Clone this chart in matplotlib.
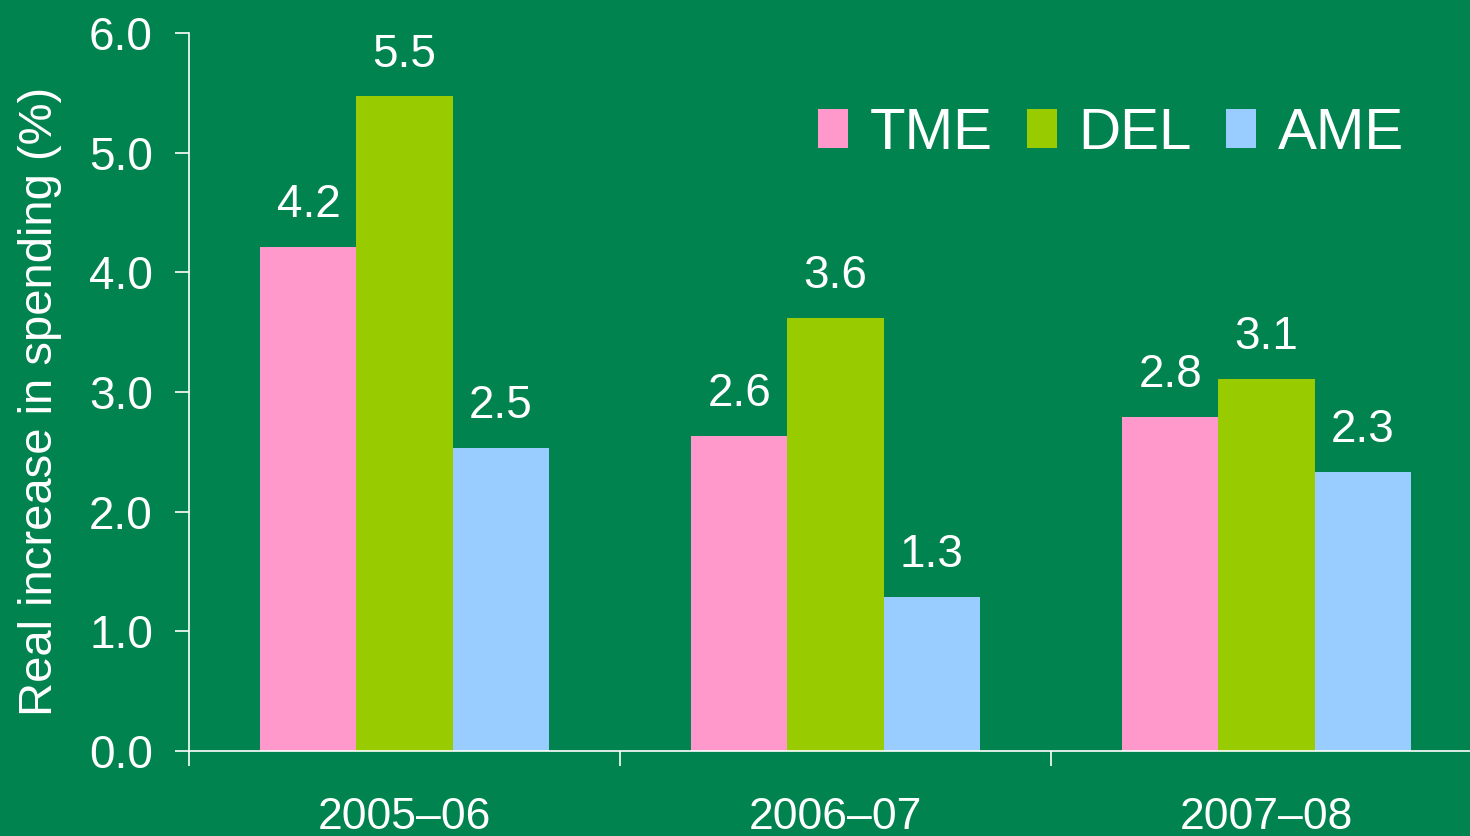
import matplotlib.pyplot as plt
import numpy as np
from matplotlib.patches import Patch

years = ["2005\u201306", "2006\u201307", "2007\u201308"]
series = ["TME", "DEL", "AME"]
tme = [4.21, 2.63, 2.79]
dele = [5.47, 3.62, 3.11]
ame = [2.53, 1.29, 2.33]
colors = ["#FF99CC", "#99CC00", "#99CCFF"]
bg = "#00834F"

plt.rcParams["font.family"] = ["Liberation Sans", "DejaVu Sans"]

fig = plt.figure(figsize=(14.7, 8.36), dpi=100, facecolor=bg)
ax = fig.add_axes([189 / 1470, 1 - 751 / 836, 1281 / 1470, 718 / 836])
ax.set_facecolor(bg)

x = np.arange(len(years))
w = 0.223
for k, (vals, c) in enumerate(zip([tme, dele, ame], colors)):
    pos = x + (k - 1) * w
    ax.bar(pos, vals, width=w, color=c, zorder=2)
    for xi, v in zip(pos, vals):
        ax.annotate(f"{v:.1f}", (xi, v), xytext=(0, 21.5), textcoords="offset points",
                    ha="center", va="baseline", fontsize=33, color="white")

ax.set_xlim(-0.5, -0.5 + 1281 / 431)
ax.set_ylim(0, 6)
ax.set_yticks(np.arange(0, 6.01, 1.0))
ax.set_yticklabels([f"{v:.1f}" for v in np.arange(0, 6.01, 1.0)])
ax.tick_params(axis="y", colors="white", labelsize=33, length=10, width=1.2, pad=16)

ax.set_xticks([-0.5, 0.5, 1.5])
ax.set_xticklabels([])
ax.set_xticks(x, minor=True)
ax.set_xticklabels(years, minor=True)
ax.tick_params(axis="x", which="major", colors="white", length=11, width=1.2)
ax.tick_params(axis="x", which="minor", colors="white", length=0, labelsize=32, pad=33)

for s in ["top", "right"]:
    ax.spines[s].set_visible(False)
for s in ["left", "bottom"]:
    ax.spines[s].set_color("white")
    ax.spines[s].set_linewidth(1.2)

fig.text(40 / 1470, 1 - 401 / 836, "Real increase in spending (%)", rotation=90,
         ha="center", va="center", fontsize=34, color="white")

handles = [Patch(facecolor=c, edgecolor="none") for c in colors]
leg = ax.legend(handles, series, loc="upper left", bbox_to_anchor=(818 / 1470, 1 - 107 / 836),
                bbox_transform=fig.transFigure, ncol=3, frameon=False, fontsize=42,
                handlelength=0.51, handleheight=0.67, handletextpad=0.38,
                columnspacing=0.58, borderpad=0, borderaxespad=0)
for t in leg.get_texts():
    t.set_color("white")

fig.savefig("out.png", dpi=100, facecolor=bg)
